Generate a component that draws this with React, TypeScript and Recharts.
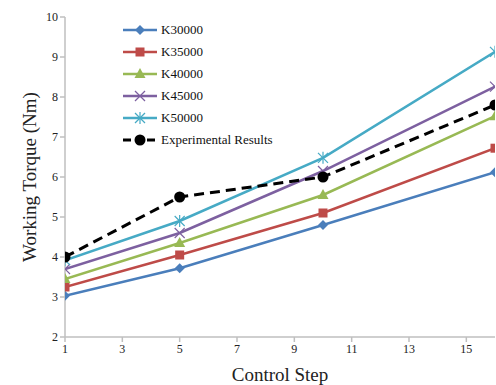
import { LineChart, Line, XAxis, YAxis, Legend } from 'recharts'

const steps = [1, 5, 10, 16]
const k30000 = [3.03, 3.72, 4.8, 6.12]
const k35000 = [3.25, 4.05, 5.1, 6.72]
const k40000 = [3.45, 4.35, 5.55, 7.52]
const k45000 = [3.7, 4.6, 6.15, 8.26]
const k50000 = [3.92, 4.9, 6.48, 9.13]
const experimental = [4.0, 5.5, 6.0, 7.8]

const xTicks = [1, 3, 5, 7, 9, 11, 13, 15]
const yTicks = [2, 3, 4, 5, 6, 7, 8, 9, 10]

const data = steps.map((s, i) => ({
  step: s,
  k30000: k30000[i],
  k35000: k35000[i],
  k40000: k40000[i],
  k45000: k45000[i],
  k50000: k50000[i],
  exp: experimental[i],
}))

type Shape = 'diamond' | 'square' | 'triangle' | 'x' | 'star' | 'circle'

const series: Array<{ key: string; name: string; color: string; shape: Shape; dashed?: boolean }> = [
  { key: 'k30000', name: 'K30000', color: '#4a7ebb', shape: 'diamond' },
  { key: 'k35000', name: 'K35000', color: '#be4b48', shape: 'square' },
  { key: 'k40000', name: 'K40000', color: '#98b954', shape: 'triangle' },
  { key: 'k45000', name: 'K45000', color: '#7d60a0', shape: 'x' },
  { key: 'k50000', name: 'K50000', color: '#46aac5', shape: 'star' },
  { key: 'exp', name: 'Experimental Results', color: '#000000', shape: 'circle', dashed: true },
]

const FONT = '"Liberation Serif", "Times New Roman", serif'

function Marker({ cx, cy, shape, color }: { cx: number; cy: number; shape: Shape; color: string }) {
  switch (shape) {
    case 'diamond':
      return <polygon points={`${cx},${cy - 5} ${cx + 5},${cy} ${cx},${cy + 5} ${cx - 5},${cy}`} fill={color} />
    case 'square':
      return <rect x={cx - 4.5} y={cy - 4.5} width={9} height={9} fill={color} />
    case 'triangle':
      return <polygon points={`${cx},${cy - 6} ${cx + 5.5},${cy + 4} ${cx - 5.5},${cy + 4}`} fill={color} />
    case 'x':
      return (
        <g stroke={color} strokeWidth={1.2}>
          <line x1={cx - 5} y1={cy - 5} x2={cx + 5} y2={cy + 5} />
          <line x1={cx - 5} y1={cy + 5} x2={cx + 5} y2={cy - 5} />
        </g>
      )
    case 'star':
      return (
        <g stroke={color} strokeWidth={1.2}>
          <line x1={cx - 5} y1={cy - 5} x2={cx + 5} y2={cy + 5} />
          <line x1={cx - 5} y1={cy + 5} x2={cx + 5} y2={cy - 5} />
          <line x1={cx} y1={cy - 6} x2={cx} y2={cy + 6} />
        </g>
      )
    default:
      return <circle cx={cx} cy={cy} r={5.5} fill={color} />
  }
}

function LegendBox() {
  return (
    <div style={{ fontFamily: FONT, fontSize: 13, color: '#111' }}>
      {series.map((s) => (
        <div key={s.key} style={{ display: 'flex', alignItems: 'center', height: 22 }}>
          <svg width={38} height={14}>
            <line
              x1={0}
              y1={7}
              x2={34}
              y2={7}
              stroke={s.color}
              strokeWidth={s.dashed ? 3 : 2.5}
              strokeDasharray={s.dashed ? '8 4' : undefined}
            />
            <Marker cx={17} cy={7} shape={s.shape} color={s.color} />
          </svg>
          <span>{s.name}</span>
        </div>
      ))}
    </div>
  )
}

export default function App() {
  return (
    <div style={{ position: 'absolute', left: 0, top: 0, background: '#fff' }}>
      <LineChart width={496} height={385} data={data} margin={{ top: 17, right: 1, left: 0, bottom: 0 }}>
        <XAxis
          dataKey='step'
          type='number'
          domain={[1, 16]}
          ticks={xTicks}
          allowDataOverflow
          stroke='#bfbfbf'
          strokeWidth={1.5}
          tickSize={5}
          height={48}
          tick={{ fill: '#222', fontSize: 12, fontFamily: FONT }}
          label={{ value: 'Control Step', position: 'insideBottom', offset: 4, fill: '#222', fontSize: 19, fontFamily: FONT }}
        />
        <YAxis
          type='number'
          domain={[2, 10]}
          ticks={yTicks}
          width={65}
          stroke='#bfbfbf'
          strokeWidth={1.5}
          tickSize={5}
          tick={{ fill: '#222', fontSize: 12, fontFamily: FONT }}
          label={{ value: 'Working Torque (Nm)', angle: -90, position: 'center', dx: -3, fill: '#222', fontSize: 19, fontFamily: FONT }}
        />
        <Legend
          layout='vertical'
          align='center'
          verticalAlign='middle'
          content={() => <LegendBox />}
          wrapperStyle={{ left: 123, top: 19, width: 'auto', height: 'auto' }}
        />
        {series.map((s) => (
          <Line
            key={s.key}
            dataKey={s.key}
            name={s.name}
            type='linear'
            stroke={s.color}
            strokeWidth={s.dashed ? 3 : 2.5}
            strokeDasharray={s.dashed ? '10 6' : undefined}
            isAnimationActive={false}
            dot={(p: any) => (
              <g key={`${s.key}-${p.index}`}>
                <Marker cx={p.cx} cy={p.cy} shape={s.shape} color={s.color} />
              </g>
            )}
            activeDot={false}
          />
        ))}
      </LineChart>
    </div>
  )
}
